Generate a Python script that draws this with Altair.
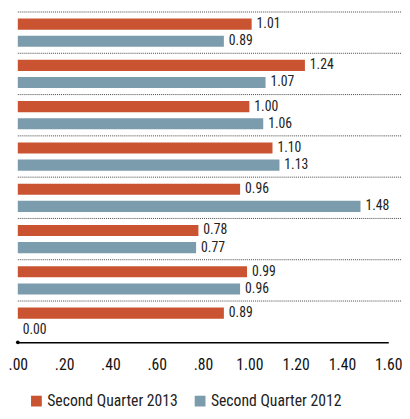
import altair as alt
import pandas as pd

groups = ["Row 1", "Row 2", "Row 3", "Row 4", "Row 5", "Row 6", "Row 7", "Row 8"]
q2_2013 = [1.01, 1.24, 1.00, 1.10, 0.96, 0.78, 0.99, 0.89]
q2_2012 = [0.89, 1.07, 1.06, 1.13, 1.48, 0.77, 0.96, 0.00]
series = ["Second Quarter 2013", "Second Quarter 2012"]
colors = ["#CA5431", "#7B9CAC"]
tick_values = [0.0, 0.2, 0.4, 0.6, 0.8, 1.0, 1.2, 1.4, 1.6]

rows = []
for g, a, b in zip(groups, q2_2013, q2_2012):
    rows.append({"group": g, "series": series[0], "value": a})
    rows.append({"group": g, "series": series[1], "value": b})
df = pd.DataFrame(rows)
df["label"] = df["value"].map(lambda v: f"{v:.2f}")

sep_df = pd.DataFrame({"group": groups, "x0": [0.0] * len(groups), "x1": [1.8] * len(groups)})
dot_df = pd.DataFrame({"x0": [0.0]})

FONT = "Roboto Condensed, DejaVu Sans Condensed, sans-serif"
W, H = 378, 337

yscale = alt.Scale(domain=groups, paddingInner=0, paddingOuter=0)
yoscale = alt.Scale(domain=series, paddingInner=0.353, paddingOuter=0.38)
xscale = alt.Scale(domain=[0, 1.6], nice=False, zero=True)

y = alt.Y("group:N", sort=groups, axis=None, scale=yscale)
yoff = alt.YOffset("series:N", sort=series, scale=yoscale)

x = alt.X(
    "value:Q",
    scale=xscale,
    axis=alt.Axis(
        values=tick_values,
        labelExpr="datum.value < 1 ? slice(format(datum.value, '.2f'), 1) : format(datum.value, '.2f')",
        ticks=False,
        grid=False,
        domainColor="#000000",
        domainWidth=1.5,
        labelFont=FONT,
        labelFontSize=16,
        labelColor="#111111",
        labelPadding=15,
        labelFlush=False,
        labelOverlap=False,
        title=None,
    ),
)

color = alt.Color(
    "series:N",
    sort=series,
    scale=alt.Scale(domain=series, range=colors),
    legend=alt.Legend(
        orient="none",
        legendX=11,
        legendY=389,
        direction="horizontal",
        title=None,
        symbolType="square",
        symbolSize=121,
        symbolStrokeWidth=0,
        symbolOpacity=1,
        labelFont=FONT,
        labelFontSize=16,
        labelLimit=300,
        labelColor="#222222",
        columnPadding=14,
        labelOffset=3,
    ),
)

bars = alt.Chart(df).mark_bar().encode(x=x, y=y, yOffset=yoff, color=color)

labels = alt.Chart(df).mark_text(
    align="left", baseline="middle", dx=5, font=FONT, fontSize=14, color="#222222"
).encode(
    x=alt.X("value:Q", scale=xscale, title=None),
    y=y,
    yOffset=yoff,
    text="label:N",
)

seps = alt.Chart(sep_df).mark_rule(color="#444444", strokeDash=[1, 1], strokeWidth=1).encode(
    y=alt.Y("group:N", sort=groups, axis=None, scale=yscale, bandPosition=0),
    x=alt.X("x0:Q", scale=xscale, title=None),
    x2="x1:Q",
)

dot = alt.Chart(dot_df).mark_circle(color="#000000", size=14, opacity=1).encode(
    x=alt.X("x0:Q", scale=xscale, title=None),
    y=alt.value(H),
)

chart = (
    alt.layer(seps, bars, labels, dot)
    .properties(
        width=W,
        height=H,
        autosize=alt.AutoSizeParams(type="none"),
        padding={"left": 10, "top": 0, "right": 14, "bottom": 66},
        background="white",
    )
    .configure_view(stroke=None)
)

chart.save("out.html", embed_options={"renderer": "svg", "actions": False})
